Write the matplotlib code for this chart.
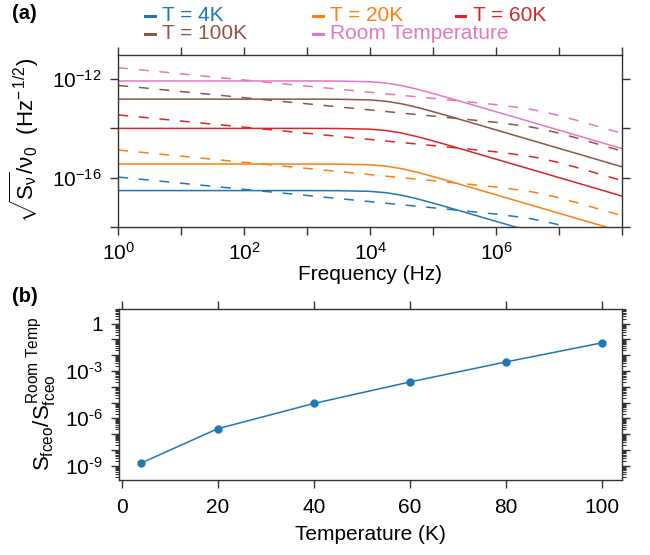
import matplotlib
matplotlib.use('Agg')

import numpy as np
import matplotlib.pyplot as plt
from matplotlib.lines import Line2D
from matplotlib.ticker import FixedLocator, FixedFormatter, LogLocator, NullFormatter

plt.rcParams['font.family'] = ['Liberation Sans', 'DejaVu Sans']
plt.rcParams['mathtext.fontset'] = 'custom'
plt.rcParams['mathtext.rm'] = 'Liberation Sans'
plt.rcParams['mathtext.it'] = 'Liberation Sans'
plt.rcParams['mathtext.bf'] = 'Liberation Sans:bold'
plt.rcParams['font.size'] = 15

# (a) noise spectra, log10 values
log_freq = [0, 1, 2, 3, 3.5, 4, 4.25, 4.5, 4.75, 5, 5.25, 5.5, 6, 6.5, 6.75, 7, 7.25, 7.5, 7.75, 8]

labels = ["T = 4K", "T = 20K", "T = 60K", "T = 100K", "Room Temperature"]
colors = ["#1f77b4", "#ff7f0e", "#d62728", "#8c564b", "#e377c2"]

solid_4K = [-16.53, -16.53, -16.53, -16.53, -16.534, -16.562, -16.616, -16.719, -16.867, -17.04,
            -17.222, -17.408, -17.783, -18.158, -18.345, -18.533, -18.72, -18.908, -19.095, -19.283]
solid_20K = [-15.45, -15.45, -15.45, -15.45, -15.454, -15.482, -15.536, -15.639, -15.787, -15.96,
             -16.142, -16.328, -16.703, -17.078, -17.265, -17.453, -17.64, -17.828, -18.015, -18.203]
solid_60K = [-14.0, -14.0, -14.0, -14.0, -14.004, -14.032, -14.086, -14.189, -14.337, -14.51,
             -14.692, -14.878, -15.253, -15.628, -15.815, -16.003, -16.19, -16.378, -16.565, -16.753]
solid_100K = [-12.81, -12.81, -12.81, -12.81, -12.814, -12.842, -12.896, -12.999, -13.147, -13.32,
              -13.502, -13.688, -14.063, -14.438, -14.625, -14.813, -15.0, -15.188, -15.375, -15.563]
solid_room = [-12.07, -12.07, -12.07, -12.07, -12.074, -12.102, -12.156, -12.259, -12.407, -12.58,
              -12.762, -12.948, -13.323, -13.698, -13.885, -14.073, -14.26, -14.448, -14.635, -14.823]

dash_4K = [-15.98, -16.23, -16.48, -16.73, -16.855, -16.98, -17.043, -17.105, -17.168, -17.23,
           -17.293, -17.356, -17.485, -17.649, -17.771, -17.925, -18.099, -18.283, -18.468, -18.655]
dash_20K = [-14.88, -15.13, -15.38, -15.63, -15.755, -15.88, -15.943, -16.005, -16.068, -16.13,
            -16.193, -16.256, -16.385, -16.549, -16.671, -16.825, -16.999, -17.183, -17.368, -17.555]
dash_60K = [-13.45, -13.7, -13.95, -14.2, -14.325, -14.45, -14.513, -14.575, -14.638, -14.7,
            -14.763, -14.826, -14.955, -15.119, -15.241, -15.395, -15.569, -15.753, -15.938, -16.125]
dash_100K = [-12.25, -12.5, -12.75, -13.0, -13.125, -13.25, -13.313, -13.375, -13.438, -13.5,
             -13.563, -13.626, -13.755, -13.919, -14.041, -14.195, -14.369, -14.553, -14.738, -14.925]
dash_room = [-11.53, -11.78, -12.03, -12.28, -12.405, -12.53, -12.593, -12.655, -12.718, -12.78,
             -12.843, -12.906, -13.035, -13.199, -13.321, -13.475, -13.649, -13.833, -14.018, -14.205]

solid_curves = [solid_4K, solid_20K, solid_60K, solid_100K, solid_room]
dash_curves = [dash_4K, dash_20K, dash_60K, dash_100K, dash_room]

# (b) ratio vs temperature
temps = [4, 20, 40, 60, 80, 100]
ratio = [1.45e-9, 2.2e-7, 8.7e-6, 2.0e-4, 3.7e-3, 6.0e-2]

spine_col = "#333333"

fig = plt.figure(figsize=(6.5, 5.55), dpi=100)

# ---- panel (a)
ax1 = fig.add_axes([0.182, 0.5915, 0.775, 0.310])
f = np.power(10.0, log_freq)
for c, s, d in zip(colors, solid_curves, dash_curves):
    ax1.plot(f, np.power(10.0, d), color=c, lw=1.1, dashes=(6.5, 7))
    ax1.plot(f, np.power(10.0, s), color=c, lw=1.1)

ax1.set_xscale('log')
ax1.set_yscale('log')
ax1.set_xlim(1, 1e8)
ax1.set_ylim(1e-18, 1e-11)

xmaj = [10.0 ** k for k in range(9)]
ax1.xaxis.set_major_locator(FixedLocator(xmaj))
ax1.xaxis.set_major_formatter(FixedFormatter(["$10^{0}$", "", "$10^{2}$", "", "$10^{4}$", "", "$10^{6}$", "", ""]))
ax1.xaxis.set_minor_locator(LogLocator(base=10, subs=np.arange(2, 10)))
ax1.xaxis.set_minor_formatter(NullFormatter())
ax1.yaxis.set_major_locator(FixedLocator([1e-18, 1e-16, 1e-14, 1e-12]))
ax1.yaxis.set_major_formatter(FixedFormatter(["", "$10^{-16}$", "", "$10^{-12}$"]))
ax1.yaxis.set_minor_locator(FixedLocator([]))
ax1.tick_params(which='both', direction='out', top=True, right=True, color=spine_col)
ax1.tick_params(which='major', length=6, width=1)
ax1.tick_params(which='minor', length=3, width=0.8)
ax1.tick_params(axis='x', pad=5)
ax1.tick_params(axis='y', pad=6)
ax1.set_xlabel("Frequency (Hz)", labelpad=1)
ax1.set_ylabel(r"$\sqrt{S_\nu}/\nu_0$  (Hz$^{-\,1/2}$)", labelpad=8, fontsize=16)

# ---- panel (b)
ax2 = fig.add_axes([0.1835, 0.135, 0.774, 0.309])
ax2.plot(temps, ratio, color=colors[0], lw=1.1, marker='o', ms=5)
ax2.set_yscale('log')
ax2.set_xlim(-0.5, 104.3)
ax2.set_ylim(10 ** -9.91, 10 ** 0.95)
ax2.xaxis.set_major_locator(FixedLocator([0, 20, 40, 60, 80, 100]))
ydec = [10.0 ** k for k in range(-9, 1)]
ylab = ["" for k in range(-9, 1)]
ylab[0] = "10$^{\u2010 9}$"
ylab[3] = "10$^{\u2010 6}$"
ylab[6] = "10$^{\u2010 3}$"
ylab[9] = "1"
ax2.yaxis.set_major_locator(FixedLocator(ydec))
ax2.yaxis.set_major_formatter(FixedFormatter(ylab))
ax2.yaxis.set_minor_locator(LogLocator(base=10, subs=np.arange(2, 10), numticks=30))
ax2.yaxis.set_minor_formatter(NullFormatter())
ax2.tick_params(which='both', direction='out', top=True, right=True, color=spine_col)
ax2.tick_params(which='major', length=6, width=1)
ax2.tick_params(which='minor', length=3, width=0.8)
ax2.tick_params(axis='x', pad=7)
ax2.tick_params(axis='y', pad=6)
ax2.set_xlabel("Temperature (K)", labelpad=6)
ax2.set_ylabel(r"$S_{fceo}/S_{fceo}^{Room\ Temp}$", labelpad=4, fontsize=16)

for ax in (ax1, ax2):
    for sp in ax.spines.values():
        sp.set_color(spine_col)
        sp.set_linewidth(1.0)

# ---- legend drawn by hand (row-wise layout)
leg_x = [0.223, 0.482, 0.701]
leg_y = [0.972, 0.939]
for i, (lab, c) in enumerate(zip(labels, colors)):
    x = leg_x[i % 3]
    y = leg_y[i // 3]
    fig.add_artist(Line2D([x, x + 0.015], [y, y], transform=fig.transFigure, color=c, lw=2.2))
    fig.text(x + 0.026, y, lab, color=c, va='center', ha='left', fontsize=15)

fig.text(0.018, 0.975, "(a)", fontweight='bold', fontsize=14.5, va='center')
fig.text(0.018, 0.466, "(b)", fontweight='bold', fontsize=14.5, va='center')

fig.savefig("out.png", dpi=100)
